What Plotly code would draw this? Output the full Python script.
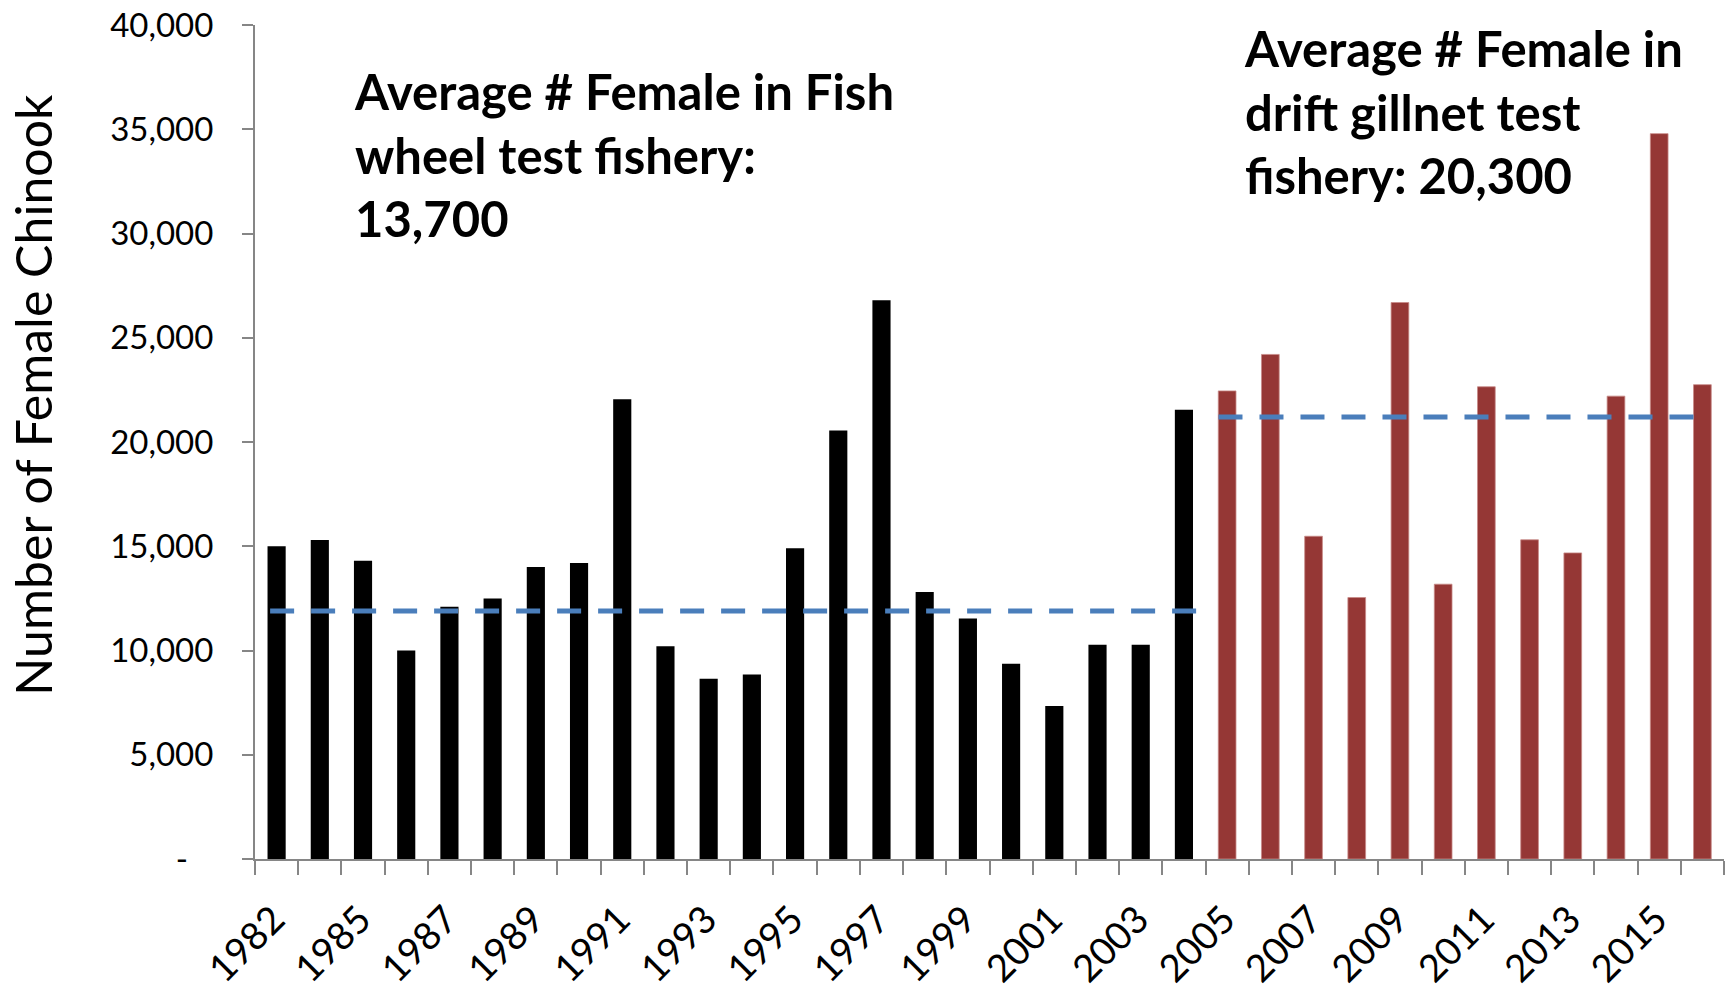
import plotly.graph_objects as go

# ---- data ----
years = [1982] + list(range(1984, 2017))
fish_wheel_years = [1982] + list(range(1984, 2005))
fish_wheel_values = [15000, 15300, 14300, 10000, 12100, 12500, 14000, 14200, 22050, 10200,
                     8650, 8850, 14900, 20550, 26800, 12800, 11530, 9370, 7340, 10270,
                     10270, 21550]
gillnet_years = list(range(2005, 2017))
gillnet_values = [22450, 24200, 15480, 12540, 26690, 13180, 22650, 15310, 14680, 22200,
                  34790, 22750]
avg_line_levels = [11900, 21200]   # dashed reference lines as drawn
y_ticks = [0, 5000, 10000, 15000, 20000, 25000, 30000, 35000, 40000]
y_tick_labels = ["-\u00a0\u00a0\u00a0", "5,000", "10,000", "15,000", "20,000", "25,000",
                 "30,000", "35,000", "40,000"]
label_fish = "Average # Female in Fish<br>wheel test fishery:<br>13,700"
label_gill = "Average # Female in<br>drift gillnet test<br>fishery: 20,300"
y_title = "Number of Female Chinook"

pos = {y: i for i, y in enumerate(years)}
x_fw = [pos[y] for y in fish_wheel_years]
x_gn = [pos[y] for y in gillnet_years]

FONT = "Lato"
GRAY = "#868686"

fig = go.Figure()
fig.add_trace(go.Bar(x=x_fw, y=fish_wheel_values, width=0.42,
                     marker=dict(color="#000000", line=dict(width=0)), showlegend=False))
fig.add_trace(go.Bar(x=x_gn, y=gillnet_values, width=0.41,
                     marker=dict(color="#953735", line=dict(width=0.8, color="#C88A88")),
                     showlegend=False))
fig.add_trace(go.Scatter(x=[x_fw[0] - 0.15, x_fw[-1] + 0.55],
                         y=[avg_line_levels[0]] * 2, mode="lines",
                         line=dict(color="#4A7EBB", width=5, dash="24px,17px"),
                         showlegend=False))
fig.add_trace(go.Scatter(x=[x_gn[0] - 0.2, x_gn[-1] - 0.2],
                         y=[avg_line_levels[1]] * 2, mode="lines",
                         line=dict(color="#4A7EBB", width=5, dash="24px,17px"),
                         showlegend=False))

tickidx = list(range(0, len(years), 2))
fig.update_layout(
    width=1736, height=992,
    margin=dict(l=255, r=12, t=25, b=133),
    paper_bgcolor="white", plot_bgcolor="white",
    barmode="overlay",
    font=dict(family=FONT, color="#000000"),
    xaxis=dict(range=[-0.5, len(years) - 0.5], tickmode="array", automargin=False,
               tickvals=tickidx, ticktext=[str(years[i]) for i in tickidx],
               tickangle=-45, ticks="", showgrid=False, zeroline=False,
               showline=True, linecolor=GRAY, linewidth=2,
               ticklabelstandoff=21, ticklabelshift=-3, ticklabeloverflow="allow",
               tickfont=dict(size=38, family=FONT),
               minor=dict(ticks="outside", tick0=-0.5, dtick=1, ticklen=14,
                          tickcolor=GRAY, tickwidth=1.5, showgrid=False)),
    yaxis=dict(range=[0, 40000], tickmode="array", tickvals=y_ticks, automargin=False,
               ticktext=y_tick_labels, ticks="outside", ticklen=11,
               tickcolor=GRAY, tickwidth=1.5, showgrid=False, zeroline=False,
               showline=True, linecolor=GRAY, linewidth=2,
               ticklabelstandoff=22, ticklabeloverflow="allow",
               tickfont=dict(size=33, family=FONT)),
    annotations=[
        dict(text=label_fish, xref="paper", yref="paper", x=0.066, y=0.958,
             xanchor="left", yanchor="top", align="left", showarrow=False,
             font=dict(size=49, family=FONT, color="#000000", weight="bold")),
        dict(text=label_gill, xref="paper", yref="paper", x=0.672, y=1.010,
             xanchor="left", yanchor="top", align="left", showarrow=False,
             font=dict(size=49, family=FONT, color="#000000", weight="bold")),
        dict(text=y_title, xref="paper", yref="paper", x=-0.151, y=0.557,
             xanchor="center", yanchor="middle", textangle=-90, showarrow=False,
             font=dict(size=50, family=FONT, color="#000000")),
    ],
)

fig.write_html("out.html",
               config={"displayModeBar": False},
               post_script="document.body.style.margin='0px';"
                           "document.body.style.overflow='hidden';")
